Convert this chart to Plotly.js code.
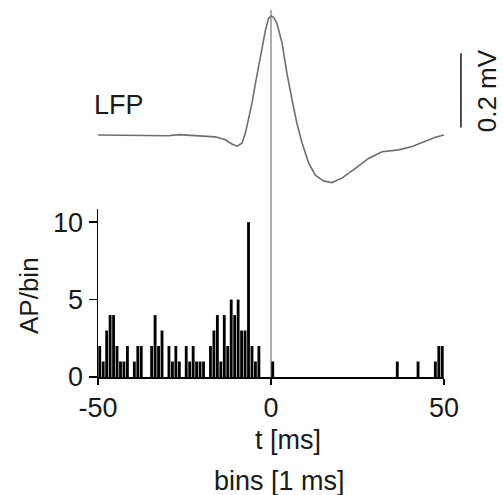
<!DOCTYPE html>
<html>
<head>
<meta charset="utf-8">
<script src="https://cdn.plot.ly/plotly-3.0.1.min.js"></script>
<style>
html,body{margin:0;padding:0;background:#fff;}
#chart{width:503px;height:495px;}
</style>
</head>
<body>
<div id="chart"></div>
<script>
// Histogram bins (left edge, ms) and spike counts per 1 ms bin
const binLeft = [-50,-49,-48,-47,-46,-45,-44,-43,-42,-41,-40,-39,-38,-37,-36,-35,-34,-33,-32,-31,
  -30,-29,-28,-27,-26,-25,-24,-23,-22,-21,-20,-19,-18,-17,-16,-15,-14,-13,-12,-11,
  -10,-9,-8,-7,-6,-5,-4,-3,-2,-1,0,1,2,3,4,5,6,7,8,9,10,11,12,13,14,15,16,17,18,19,
  20,21,22,23,24,25,26,27,28,29,30,31,32,33,34,35,36,37,38,39,40,41,42,43,44,45,46,47,48,49];
const apCounts = [2,1,3,4,4,2,1,1,2,0, 1,2,2,0,0,2,4,2,3,0,
  2,1,2,1,0,2,1,2,1,1, 1,0,2,3,4,1,4,2,5,4,
  5,3,3,10,2,1,2,0,0,0,
  1,0,0,0,0,0,0,0,0,0, 0,0,0,0,0,0,0,0,0,0,
  0,0,0,0,0,0,0,0,0,0, 0,0,0,0,0,0,1,0,0,0,
  0,0,1,0,0,0,0,1,2,2];

// LFP average trace (time ms, mV relative to baseline)
const lfpT = [-50,-34.4,-32.5,-29.6,-26.8,-23.8,-16.1,-13.2,-11.3,-9.8,-8.4,-7.4,-6.4,-5.5,-4.5,-3.6,-2.6,-1.6,-0.7,0.1,
  0.8,1.7,3.2,4.6,6.1,7.5,9.0,10.9,12.8,15.2,17.6,20.5,24.4,28.2,32.1,36.9,40.8,44.6,47.5,50];
const lfpV = [0,-0.001,-0.003,-0.002,0.001,-0.001,-0.005,-0.013,-0.024,-0.030,-0.022,0.005,0.049,0.085,0.139,0.184,0.237,0.282,0.314,0.320,
  0.316,0.300,0.247,0.166,0.094,0.031,-0.022,-0.076,-0.108,-0.124,-0.128,-0.116,-0.090,-0.063,-0.045,-0.040,-0.031,-0.018,-0.006,0];

const xTicks = [-50,0,50];
const yTicks = [0,5,10];
const scaleBar = [0.02,0.22]; // 0.2 mV

const barX = binLeft.map(v => v + 0.5);
const font = 'Liberation Sans, Arial, sans-serif';
const ink = '#1a1a1a';
const fs = 27;

const traces = [
  {type:'bar', x:barX, y:apCounts, width:0.82, marker:{color:'#000', line:{width:0}}, xaxis:'x', yaxis:'y', hoverinfo:'skip'},
  {type:'scatter', mode:'lines', x:lfpT, y:lfpV, line:{color:'#6e6e6e', width:1.6}, xaxis:'x', yaxis:'y2', hoverinfo:'skip'}
];

const layout = {
  width:503, height:495,
  margin:{l:98, r:59, t:5, b:118},
  paper_bgcolor:'#fff', plot_bgcolor:'rgba(0,0,0,0)',
  showlegend:false,
  font:{family:font, size:fs, color:ink},
  xaxis:{range:[-50,50], tickvals:xTicks, ticktext:xTicks.map(String), showgrid:false, zeroline:false,
    showline:true, linecolor:'#000', linewidth:1.5, ticks:'outside', ticklen:6, tickwidth:1.5, tickcolor:'#000',
    anchor:'y', tickfont:{size:fs, color:ink}},
  yaxis:{domain:[0,0.4516], range:[0,10.85], tickvals:yTicks, ticktext:yTicks.map(String), showgrid:false, zeroline:false,
    showline:true, linecolor:'#000', linewidth:1.5, ticks:'outside', ticklen:8, tickwidth:1.5, tickcolor:'#000',
    anchor:'x', tickfont:{size:fs, color:ink}},
  yaxis2:{domain:[0.4624,1], range:[-0.1882,0.3495], visible:false, anchor:'x'},
  shapes:[
    {type:'line', xref:'x', yref:'paper', x0:0, x1:0, y0:0, y1:0.9866, line:{color:'#8a8a8a', width:1.4}, layer:'below'},
    {type:'line', xref:'paper', yref:'y2', x0:1.049, x1:1.049, y0:scaleBar[0], y1:scaleBar[1], line:{color:'#222', width:1.6}}
  ],
  annotations:[
    {text:'LFP', xref:'paper', yref:'paper', x:-0.018, y:(377-105)/372, xanchor:'left', yanchor:'middle', showarrow:false, font:{size:fs, color:ink}},
    {text:'0.2 mV', xref:'paper', yref:'y2', x:1.124, y:0.12, xanchor:'center', yanchor:'middle', textangle:-90, showarrow:false, font:{size:26, color:ink}},
    {text:'t [ms]', xref:'paper', yref:'paper', x:0.549, y:(377-440)/372, xanchor:'center', yanchor:'middle', showarrow:false, font:{size:fs, color:ink}},
    {text:'bins [1 ms]', xref:'paper', yref:'paper', x:0.526, y:(377-481)/372, xanchor:'center', yanchor:'middle', showarrow:false, font:{size:fs, color:ink}},
    {text:'AP/bin', xref:'paper', yref:'paper', x:(29-98)/346, y:(377-296)/372, xanchor:'center', yanchor:'middle', textangle:-90, showarrow:false, font:{size:26, color:ink}}
  ]
};

Plotly.newPlot('chart', traces, layout, {staticPlot:true, displayModeBar:false});
</script>
</body>
</html>
